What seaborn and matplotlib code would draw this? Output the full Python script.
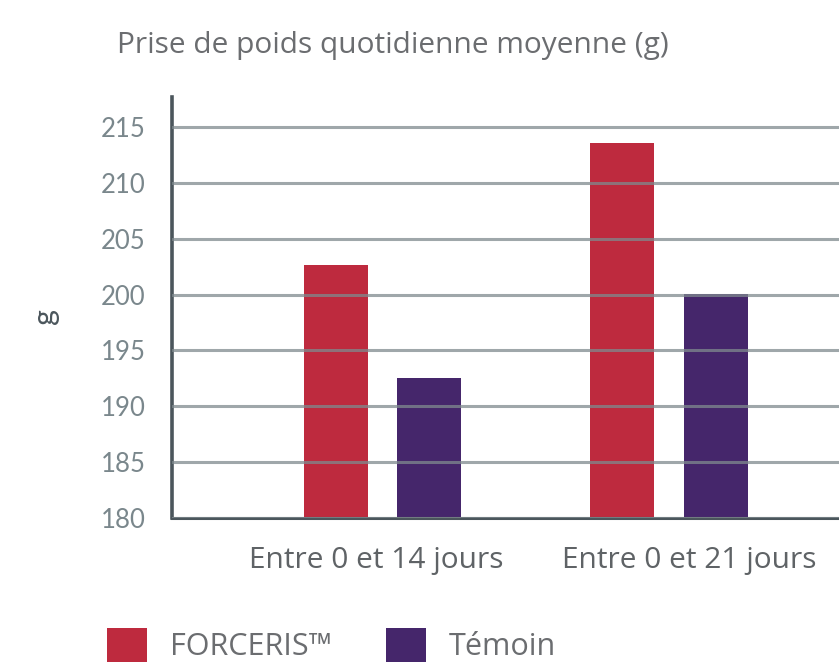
import matplotlib
matplotlib.use("Agg")
import matplotlib.pyplot as plt
import matplotlib.transforms as mtransforms
import seaborn as sns
import pandas as pd
from matplotlib.patches import Patch

# ---- data ----
periods = ["Entre 0 et 14 jours", "Entre 0 et 21 jours"]
series_names = ["FORCERIS™", "Témoin"]
forceris = [202.7, 213.6]
temoin = [192.5, 200.1]
yticks = [180, 185, 190, 195, 200, 205, 210, 215]
title = "Prise de poids quotidienne moyenne (g)"
ylabel = "g"

colors = {"FORCERIS™": "#be2a3e", "Témoin": "#45266b"}

df = pd.DataFrame({
    "period": periods * 2,
    "group": [series_names[0]] * len(periods) + [series_names[1]] * len(periods),
    "value": forceris + temoin,
})

sns.set_theme(style="white")
plt.rcParams["font.family"] = ["Open Sans", "DejaVu Sans"]

fig = plt.figure(figsize=(8.39, 6.64), dpi=100)
ax = fig.add_axes([172 / 839, (664 - 518) / 664, 1 - 172 / 839, (518 - 97) / 664])

sns.barplot(data=df, x="period", y="value", hue="group", palette=colors,
            order=periods, hue_order=series_names, width=0.654, gap=0.318,
            saturation=1, edgecolor="none", linewidth=0, legend=False, ax=ax)

ax.set_xlim(-0.735, 1.593)
ax.set_ylim(180, 217.7)
ax.set_yticks(yticks)
ax.set_yticklabels([str(t) for t in yticks], fontfamily="Lato", fontsize=18.5,
                   color="#7a878c")
ax.tick_params(axis="y", length=0, pad=19)
ax.tick_params(axis="x", length=0, pad=20, labelsize=21.5, labelcolor="#5f6366")
ax.set_xlabel("")
ax.set_ylabel(ylabel, fontsize=22, color="#4b565c", fontfamily="Lato")
ax.yaxis.set_label_coords(-0.17, 0.48)

# small horizontal shifts of the category labels as in the reference
shifts_px = [-6, 20]
for lbl, dx in zip(ax.get_xticklabels(), shifts_px):
    lbl.set_transform(lbl.get_transform() +
                      mtransforms.ScaledTranslation(dx / 100, 0, fig.dpi_scale_trans))

ax.set_axisbelow(False)
ax.yaxis.grid(True, color="#7f8a8e", linewidth=2.2, alpha=0.75)
ax.xaxis.grid(False)

for s in ["top", "right"]:
    ax.spines[s].set_visible(False)
ax.spines["left"].set_color("#4b565c")
ax.spines["left"].set_linewidth(2.6)
ax.spines["bottom"].set_color("#4b565c")
ax.spines["bottom"].set_linewidth(2.2)

fig.text(393 / 839, (664 - 45) / 664, title, ha="center", va="center",
         fontsize=21.5, color="#6b6d70")

handles = [Patch(facecolor=colors[n], edgecolor="none", label=n) for n in series_names]
leg = fig.legend(handles=handles, loc="center left",
                 bbox_to_anchor=(107 / 839, (664 - 645) / 664), ncol=2,
                 frameon=False, fontsize=22, handlelength=1.31, handleheight=1.31,
                 handletextpad=0.75, columnspacing=1.77, borderpad=0, borderaxespad=0)
for t in leg.get_texts():
    t.set_color("#6b6d70")

fig.savefig("out.png", dpi=100)
